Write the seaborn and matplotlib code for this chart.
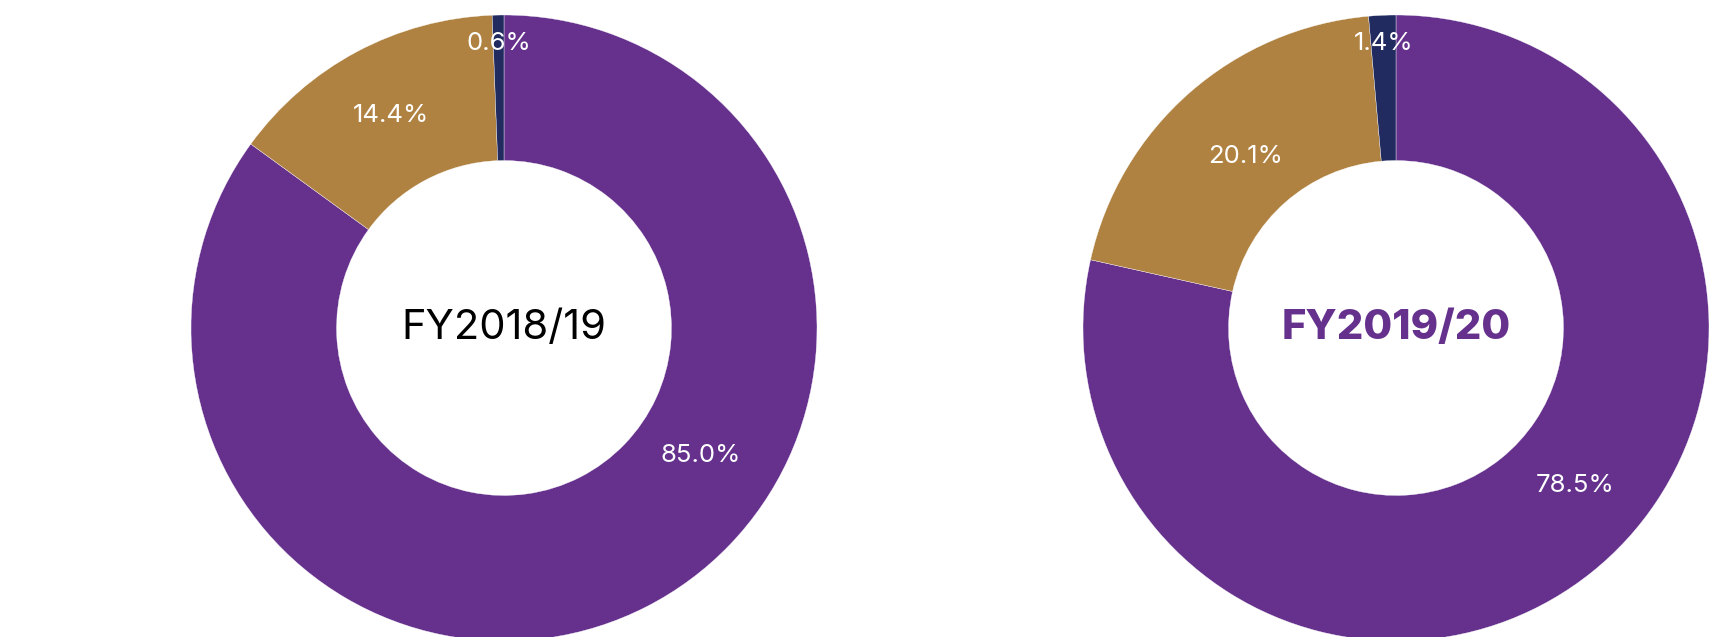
import numpy as np
import matplotlib
matplotlib.use('Agg')
import matplotlib.pyplot as plt
import seaborn as sns

sns.set_theme(style='white')
plt.rcParams['font.family'] = ['Inter', 'DejaVu Sans']

# data
years = ['FY2018/19', 'FY2019/20']
share_2018 = [85.0, 14.4, 0.6]
share_2019 = [78.5, 20.1, 1.4]
palette = sns.color_palette(['#65318D', '#AF8241', '#222B5F'])

# label placement (fraction of radius, angle shift in degrees)
lab_rad = [[0.75, 0.77, 0.91], [0.76, 0.73, 0.91]]
lab_shift = [[-30, 0, 0], [-10, 0, 0]]

fig = plt.figure(figsize=(17.15, 6.37), dpi=100)
W, H = 1715, 637
R = 313
centers = [(504, 309), (1396, 309)]

for i, (vals, year) in enumerate(zip([share_2018, share_2019], years)):
    cx, cy = centers[i]
    ax = fig.add_axes([(cx - R) / W, (cy - R) / H, 2 * R / W, 2 * R / H])
    wedges, _ = ax.pie(vals, colors=palette, startangle=90, counterclock=False,
                       radius=1, wedgeprops=dict(width=0.465, edgecolor='white', linewidth=0.25))
    for j, w in enumerate(wedges):
        ang = np.deg2rad((w.theta1 + w.theta2) / 2 - lab_shift[i][j])
        r = lab_rad[i][j]
        ax.text(r * np.cos(ang), r * np.sin(ang), f'{vals[j]:.1f}%', color='white',
                ha='center', va='center', fontsize=18.5)
    if i == 0:
        ax.text(0, 0, year, ha='center', va='center', fontsize=30, color='black')
    else:
        ax.text(0, 0, year, ha='center', va='center', fontsize=30, color='#65318D',
                fontweight='heavy')
    ax.set_xlim(-1, 1)
    ax.set_ylim(-1, 1)
    ax.set_aspect('equal')
    ax.axis('off')

fig.savefig('out.png', dpi=100)
